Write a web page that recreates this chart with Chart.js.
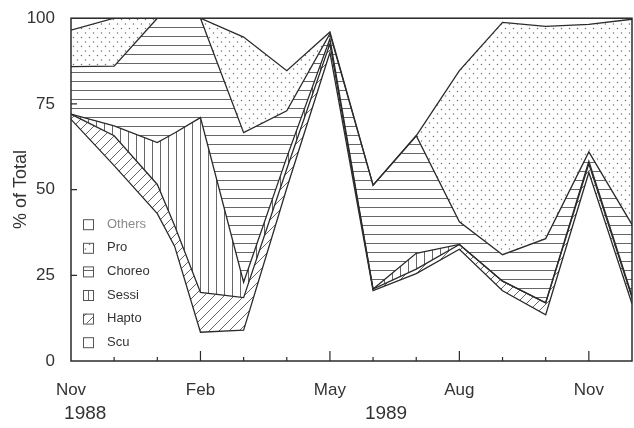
<!DOCTYPE html>
<html>
<head>
<meta charset="utf-8">
<script src="https://cdn.jsdelivr.net/npm/chart.js@4"></script>
<style>
  html, body { margin: 0; padding: 0; background: #fff; }
  #wrap { width: 634px; height: 428px; position: relative; }
</style>
</head>
<body>
<div id="wrap"><canvas id="c" width="634" height="428"></canvas></div>
<script>
// Sampling dates, in months from November 1988
const sampleMonths = [0, 1, 2, 2.4, 3, 4, 5, 6, 7, 8, 9, 10, 11, 12, 13];
const monthNames = ['Nov', 'Dec', 'Jan', 'Feb', 'Mar', 'Apr', 'May', 'Jun', 'Jul', 'Aug', 'Sep', 'Oct', 'Nov', 'Dec'];
const labeledMonths = [0, 3, 6, 9, 12];
const yearLabels = [{ text: '1988', at: 0.33 }, { text: '1989', at: 7.3 }];
const yTickValues = [0, 25, 50, 75, 100];

// Percentage of total for each group at each sampling date
const scu    = [70.5, 57.0, 43.0, 33.5, 8.4, 9.0, 50.4, 90.0, 20.5, 25.5, 32.6, 20.5, 13.5, 55.0, 16.7];
const hapto  = [1.5, 8.7, 8.5, 6.0, 11.6, 9.5, 5.6, 2.5, 0.5, 1.3, 1.4, 2.8, 3.5, 2.5, 1.8];
const sessi  = [0.0, 2.9, 12.2, 27.0, 51.0, 4.5, 3.4, 1.5, 0.0, 4.6, 0.0, 0.0, 0.0, 0.8, 0.5];
const choreo = [13.9, 17.4, 36.3, 33.5, 29.0, 43.6, 13.6, 1.5, 30.3, 34.3, 6.6, 7.7, 18.7, 2.7, 20.8];
const pro    = [10.6, 14.0, 0.0, 0.0, 0.0, 27.9, 11.7, 0.5, 0.0, 0.0, 44.1, 67.8, 61.9, 37.2, 59.9];
const others = [3.5, 0.0, 0.0, 0.0, 0.0, 5.5, 15.3, 4.0, 48.7, 34.3, 15.3, 1.2, 2.4, 1.8, 0.3];

const INK = '#2b2b2b';
const HATCH = '#555';
const FONT = "'Liberation Sans', Arial, sans-serif";

function tile(w, h, draw) {
  const c = document.createElement('canvas');
  c.width = w; c.height = h;
  const g = c.getContext('2d');
  draw(g, w, h);
  return c;
}
function patternFrom(canvasTile) {
  return document.getElementById('c').getContext('2d').createPattern(canvasTile, 'repeat');
}
const diagTile = tile(10, 10, (g, w, h) => {
  g.strokeStyle = HATCH; g.lineWidth = 0.9;
  g.beginPath();
  g.moveTo(-1, h + 1); g.lineTo(w + 1, -1);
  g.moveTo(-1, 1); g.lineTo(1, -1);
  g.moveTo(w - 1, h + 1); g.lineTo(w + 1, h - 1);
  g.stroke();
});
const vertTile = tile(8, 8, (g, w, h) => {
  g.strokeStyle = HATCH; g.lineWidth = 0.9;
  g.beginPath(); g.moveTo(0.5, 0); g.lineTo(0.5, h); g.stroke();
});
const horizTile = tile(9, 9, (g, w, h) => {
  g.strokeStyle = HATCH; g.lineWidth = 0.9;
  g.beginPath(); g.moveTo(0, 0.5); g.lineTo(w, 0.5); g.stroke();
});
const dotTile = tile(8, 9, (g) => {
  g.fillStyle = '#707070';
  g.beginPath(); g.arc(1.5, 1.5, 0.75, 0, Math.PI * 2); g.fill();
  g.beginPath(); g.arc(5.5, 6, 0.75, 0, Math.PI * 2); g.fill();
});
const fills = {
  Scu: 'rgba(255,255,255,0)',
  Hapto: patternFrom(diagTile),
  Sessi: patternFrom(vertTile),
  Choreo: patternFrom(horizTile),
  Pro: patternFrom(dotTile),
  Others: 'rgba(255,255,255,0)'
};

function points(values) {
  return values.map((v, i) => ({ x: sampleMonths[i], y: v }));
}
function layer(label, values, fill) {
  return {
    label,
    data: points(values),
    fill,
    backgroundColor: fills[label],
    borderColor: INK,
    borderWidth: 1.3,
    pointRadius: 0,
    tension: 0
  };
}

// Frame, inward tick marks, year line and the legend box
const decorations = {
  id: 'decorations',
  afterDraw(chart) {
    const { ctx, chartArea: a, scales: { x, y } } = chart;
    ctx.save();
    ctx.strokeStyle = INK;
    ctx.lineWidth = 1.5;
    ctx.strokeRect(a.left, a.top, a.right - a.left, a.bottom - a.top);

    ctx.lineWidth = 1.2;
    ctx.beginPath();
    for (let m = 1; m < 13; m++) {
      const px = x.getPixelForValue(m);
      const len = labeledMonths.includes(m) ? 10 : 4;
      ctx.moveTo(px, a.bottom); ctx.lineTo(px, a.bottom - len);
    }
    yTickValues.slice(1, -1).forEach(v => {
      const py = y.getPixelForValue(v);
      ctx.moveTo(a.left, py); ctx.lineTo(a.left + 6, py);
    });
    ctx.stroke();

    ctx.fillStyle = '#333';
    ctx.font = '19px ' + FONT;
    ctx.textAlign = 'center';
    ctx.textBaseline = 'middle';
    yearLabels.forEach(yl => ctx.fillText(yl.text, x.getPixelForValue(yl.at), a.bottom + 53));

    // legend
    const items = ['Others', 'Pro', 'Choreo', 'Sessi', 'Hapto', 'Scu'];
    const x0 = a.left + 12, y0 = a.top + 206, step = 23.6, s = 10;
    ctx.font = '13px ' + FONT;
    ctx.textAlign = 'left';
    items.forEach((name, i) => {
      const cy = y0 + i * step;
      ctx.fillStyle = fills[name];
      ctx.fillRect(x0, cy - s / 2, s, s);
      ctx.strokeStyle = '#555';
      ctx.lineWidth = 1;
      ctx.strokeRect(x0 + 0.5, cy - s / 2 + 0.5, s, s);
      ctx.fillStyle = name === 'Others' ? '#8a8a8a' : '#333';
      ctx.fillText(name, x0 + 24, cy);
    });
    ctx.restore();
  }
};

new Chart(document.getElementById('c'), {
  type: 'line',
  data: {
    datasets: [
      layer('Scu', scu, 'origin'),
      layer('Hapto', hapto, '-1'),
      layer('Sessi', sessi, '-1'),
      layer('Choreo', choreo, '-1'),
      layer('Pro', pro, '-1'),
      layer('Others', others, '-1')
    ]
  },
  options: {
    responsive: false,
    animation: false,
    layout: { padding: { top: 14, right: 2, left: 0, bottom: 0 } },
    plugins: { legend: { display: false }, tooltip: { enabled: false } },
    scales: {
      x: {
        type: 'linear',
        min: 0, max: 13,
        grid: { display: false },
        border: { display: false },
        afterFit(scale) {
          scale.height = 67;
          scale.paddingLeft = 0;
          scale.paddingRight = 0;
        },
        ticks: {
          stepSize: 1,
          autoSkip: false,
          maxRotation: 0,
          padding: 11,
          color: '#333',
          font: { family: FONT, size: 17 },
          callback: (v) => labeledMonths.includes(v) ? monthNames[v] : ''
        }
      },
      y: {
        stacked: true,
        min: 0, max: 100,
        grid: { display: false },
        border: { display: false },
        afterFit(scale) { scale.width = 71; },
        ticks: {
          stepSize: 25,
          padding: 8,
          color: '#333',
          font: { family: FONT, size: 17 }
        },
        title: {
          display: true,
          text: '% of Total',
          color: '#333',
          font: { family: FONT, size: 18 },
          padding: { top: 10, bottom: 0 }
        }
      }
    }
  },
  plugins: [decorations]
});
</script>
</body>
</html>
